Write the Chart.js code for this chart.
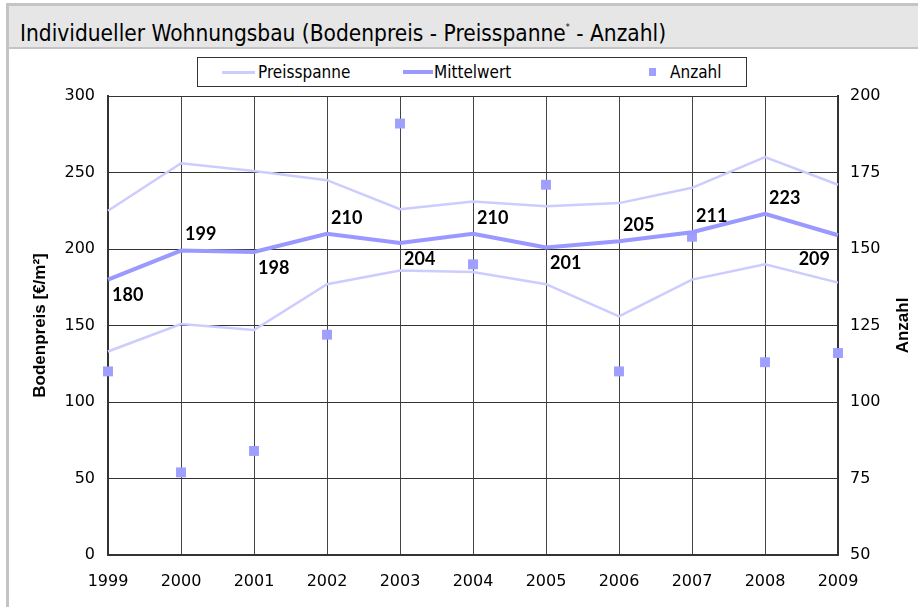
<!DOCTYPE html>
<html>
<head>
<meta charset="utf-8">
<script src="https://cdn.jsdelivr.net/npm/chart.js@4"></script>
<style>
  html, body { margin: 0; padding: 0; background: #fff; }
  body { width: 918px; height: 607px; position: relative; overflow: hidden; }
  #frame { position: absolute; left: 6px; top: 3px; width: 920px; height: 610px;
           border-left: 3px solid #c4c4c4; border-top: 3px solid #c4c4c4; box-sizing: border-box; }
  #title { position: absolute; left: 9px; top: 6px; width: 909px; height: 41px; background: #e6e6e6;
           border-bottom: 2px solid #c4c4c4; font-family: "DejaVu Sans Condensed", sans-serif;
           font-size: 22.5px; line-height: 43px; padding-left: 11px; box-sizing: content-box; color: #000; }
  #title sup { font-size: 9px; vertical-align: 11px; }
  #legend { position: absolute; left: 197px; top: 57px; width: 548px; height: 28px; border: 1px solid #333;
            font-family: "DejaVu Sans Condensed", sans-serif; font-size: 17px; }
  .item { position: absolute; top: 0; height: 28px; line-height: 28px; }
  .sw { position: absolute; }
  #chartBox { position: absolute; left: 0; top: 48px; width: 918px; height: 559px; }
</style>
</head>
<body>
<div id="frame"></div>
<div id="title">Individueller Wohnungsbau (Bodenpreis - Preisspanne<sup>*</sup> - Anzahl)</div>
<div id="legend">
  <div class="sw" style="left:24px; top:13px; width:33px; height:3px; background:#ccccff"></div>
  <div class="item" style="left:60px">Preisspanne</div>
  <div class="sw" style="left:205px; top:12px; width:30px; height:4px; background:#9999ff"></div>
  <div class="item" style="left:236px">Mittelwert</div>
  <div class="sw" style="left:451px; top:10px; width:7px; height:8px; background:#9f9fff"></div>
  <div class="item" style="left:472px">Anzahl</div>
</div>
<div id="chartBox"><canvas id="chart"></canvas></div>
<script>
const years = ["1999", "2000", "2001", "2002", "2003", "2004", "2005", "2006", "2007", "2008", "2009"];
const spanUpper = [225, 256, 251, 245, 226, 231, 228, 230, 240, 260, 242];
const spanLower = [133, 151, 147, 177, 186, 185, 177, 156, 180, 190, 178];
const mean = [180, 199, 198, 210, 204, 210, 201, 205, 211, 223, 209];
const count = [110, 77, 84, 122, 191, 145, 171, 110, 154, 113, 116];
const priceTicks = [0, 50, 100, 150, 200, 250, 300];
const countTicks = [50, 75, 100, 125, 150, 175, 200];

// where each mean label sits relative to its point
const labelPos = ["br", "ar", "br", "ar", "br", "ar", "br", "ar", "ar", "ar", "bl"];

const tickFont = { family: "DejaVu Sans", size: 16 };

const meanLabels = {
  id: "meanLabels",
  afterDatasetsDraw(chart) {
    const ctx = chart.ctx;
    const meta = chart.getDatasetMeta(2);
    ctx.save();
    ctx.font = "bold 18px Lato, 'DejaVu Sans', sans-serif";
    ctx.fillStyle = "#000";
    meta.data.forEach((pt, i) => {
      const p = labelPos[i];
      ctx.textAlign = p[1] === "l" ? "right" : "left";
      ctx.textBaseline = p[0] === "a" ? "bottom" : "top";
      const dx = p[1] === "l" ? -8 : 4;
      const dy = p[0] === "a" ? -7 : (p[1] === "l" ? 15 : 7);
      ctx.fillText(String(mean[i]), pt.x + dx, pt.y + dy);
    });
    ctx.restore();
  }
};

const rightTitle = {
  id: "rightTitle",
  afterDraw(chart) {
    const ctx = chart.ctx;
    const area = chart.chartArea;
    ctx.save();
    ctx.translate(903, (area.top + area.bottom) / 2);
    ctx.rotate(-Math.PI / 2);
    ctx.font = "bold 17px 'Liberation Sans', Arial, sans-serif";
    ctx.fillStyle = "#000";
    ctx.textAlign = "center";
    ctx.textBaseline = "middle";
    ctx.fillText("Anzahl", 0, 0);
    ctx.restore();
  }
};

const config = {
  type: "line",
  data: {
    labels: years,
    datasets: [
      { label: "Preisspanne", data: spanUpper, yAxisID: "y", borderColor: "#ccccff", borderWidth: 2.5, pointRadius: 0, tension: 0 },
      { label: "Preisspanne", data: spanLower, yAxisID: "y", borderColor: "#ccccff", borderWidth: 2.5, pointRadius: 0, tension: 0 },
      { label: "Mittelwert", data: mean, yAxisID: "y", borderColor: "#9999ff", borderWidth: 4, pointRadius: 0, tension: 0 },
      { label: "Anzahl", data: count, yAxisID: "y1", showLine: false, pointStyle: "rect", pointRadius: 7,
        backgroundColor: "#9f9fff", borderColor: "#9f9fff", borderWidth: 0 },
    ],
  },
  options: {
    responsive: false,
    animation: false,
    layout: { padding: { top: 48, left: 0, right: 0, bottom: 0 } },
    plugins: { legend: { display: false }, tooltip: { enabled: false } },
    scales: {
      x: {
        grid: { color: "#444", lineWidth: 1, drawTicks: false },
        border: { color: "#333", width: 2 },
        ticks: { font: tickFont, color: "#000", padding: 17, maxRotation: 0 },
        afterFit(s) { s.height = 52; },
      },
      y: {
        position: "left",
        min: 0,
        max: 300,
        afterBuildTicks(s) { s.ticks = priceTicks.map(v => ({ value: v })); },
        grid: { color: "#333", lineWidth: 1, drawTicks: false },
        border: { color: "#333", width: 2 },
        ticks: { font: tickFont, color: "#000", padding: 13 },
        title: { display: true, text: "Bodenpreis [€/m²]", color: "#000",
                 font: { family: "'Liberation Sans', Arial, sans-serif", size: 17, weight: "bold" },
                 padding: { top: 30, bottom: 0 } },
        afterFit(s) { s.width = 108; },
      },
      y1: {
        position: "right",
        min: 50,
        max: 200,
        afterBuildTicks(s) { s.ticks = countTicks.map(v => ({ value: v })); },
        grid: { drawOnChartArea: false, drawTicks: false },
        border: { color: "#333", width: 2 },
        ticks: { font: tickFont, color: "#000", padding: 12 },
        afterFit(s) { s.width = 80; },
      },
    },
  },
  plugins: [meanLabels, rightTitle],
};

const canvas = document.getElementById("chart");
canvas.width = 918;
canvas.height = 559;
new Chart(canvas, config);
</script>
</body>
</html>
